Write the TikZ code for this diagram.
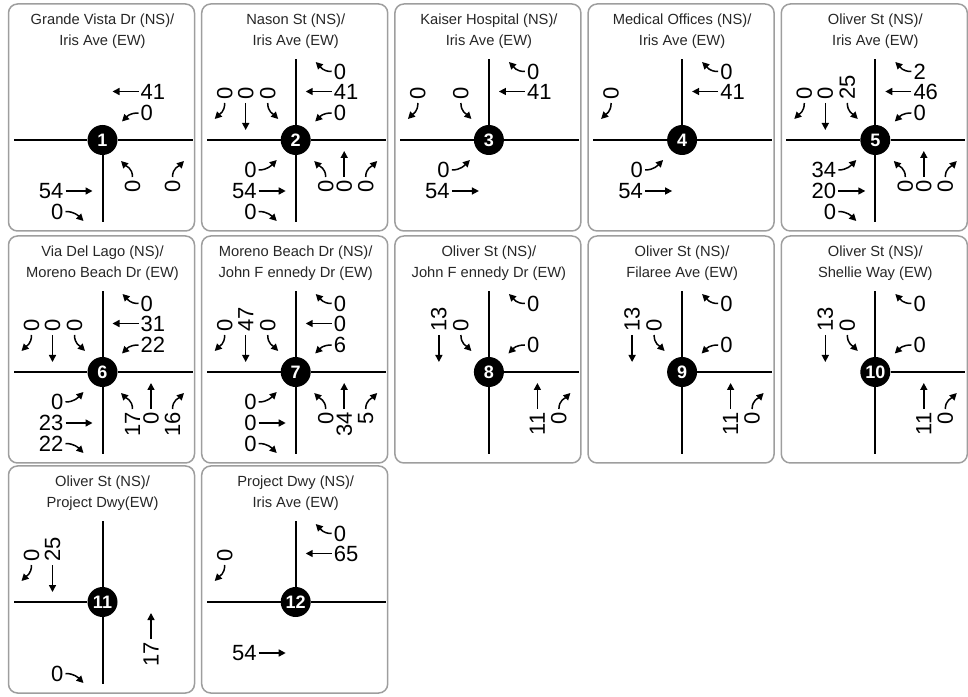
\documentclass[tikz,border=0pt]{standalone}
\usepackage{fontspec}
\setmainfont{Liberation Sans}
\usetikzlibrary{arrows.meta}

% panel frame, title and numbered hub (c)
\newcommand{\panelbox}[3]{%
  \draw[panel] (-94,-91) rectangle (92,136);
  \node[ttl] (t1) at (0,119) {#1};
  \node[ttl] (t2) at (0,98.5) {#2};
  \node[hub] (c) at (0,0) {#3};}

% legs
\newcommand{\legW}{\coordinate (w) at (-89,0); \draw[leg] (c) -- (w);}
\newcommand{\legE}{\coordinate (e) at (90,0); \draw[leg] (c) -- (e);}
\newcommand{\legN}{\coordinate (n) at (0,81); \draw[leg] (c) -- (n);}
\newcommand{\legS}{\coordinate (s) at (0,-82); \draw[leg] (c) -- (s);}

% westbound: right, through, left
\newcommand{\wbr}[1]{%
  \node[vol,anchor=west] (wbr) at (38,68.5) {#1};
  \coordinate (wbr-tip) at (20,78);
  \draw[mv] ([xshift=-2pt]wbr.west) .. controls +(-9,0) and +(5,-5) .. (wbr-tip);}
\newcommand{\wbt}[1]{%
  \node[vol,anchor=west] (wbt) at (38,48.5) {#1};
  \coordinate (wbt-tip) at (10,48.5);
  \draw[mv] ([xshift=-2pt]wbt.west) -- (wbt-tip);}
\newcommand{\wbl}[1]{%
  \node[vol,anchor=west] (wbl) at (38,27) {#1};
  \coordinate (wbl-tip) at (19.5,18.5);
  \draw[mv] ([xshift=-2pt]wbl.west) .. controls +(-9,0) and +(5,5) .. (wbl-tip);}

% eastbound: left, through, right
\newcommand{\ebl}[1]{%
  \node[vol,anchor=east] (ebl) at (-39,-30) {#1};
  \coordinate (ebl-tip) at (-19,-20);
  \draw[mv] ([xshift=2pt]ebl.east) .. controls +(9,0) and +(-5,-5) .. (ebl-tip);}
\newcommand{\ebt}[1]{%
  \node[vol,anchor=east] (ebt) at (-39,-51) {#1};
  \coordinate (ebt-tip) at (-10,-51);
  \draw[mv] ([xshift=2pt]ebt.east) -- (ebt-tip);}
\newcommand{\ebr}[1]{%
  \node[vol,anchor=east] (ebr) at (-39,-71.5) {#1};
  \coordinate (ebr-tip) at (-19,-81);
  \draw[mv] ([xshift=2pt]ebr.east) .. controls +(9,0) and +(-5,5) .. (ebr-tip);}

% southbound: right, through, left
\newcommand{\sbr}[1]{%
  \node[vol,rotate=90,anchor=west] (sbr) at (-71,40) {#1};
  \coordinate (sbr-tip) at (-81,21);
  \draw[mv] ([yshift=-3pt]sbr.west) .. controls +(0,-9) and +(5,5) .. (sbr-tip);}
\newcommand{\sbt}[1]{%
  \node[vol,rotate=90,anchor=west] (sbt) at (-50,40) {#1};
  \coordinate (sbt-tip) at (-50,10);
  \draw[mv] ([yshift=-3pt]sbt.west) -- (sbt-tip);}
\newcommand{\sbl}[1]{%
  \node[vol,rotate=90,anchor=west] (sbl) at (-28,40) {#1};
  \coordinate (sbl-tip) at (-17.5,21);
  \draw[mv] ([yshift=-3pt]sbl.west) .. controls +(0,-9) and +(-5,5) .. (sbl-tip);}

% northbound: left, through, right
\newcommand{\nbl}[1]{%
  \node[vol,rotate=90,anchor=east] (nbl) at (30,-40) {#1};
  \coordinate (nbl-tip) at (18.5,-21);
  \draw[mv] ([yshift=3pt]nbl.east) .. controls +(0,9) and +(5,-5) .. (nbl-tip);}
\newcommand{\nbt}[1]{%
  \node[vol,rotate=90,anchor=east] (nbt) at (48.5,-40) {#1};
  \coordinate (nbt-tip) at (48.5,-11);
  \draw[mv] ([yshift=3pt]nbt.east) -- (nbt-tip);}
\newcommand{\nbr}[1]{%
  \node[vol,rotate=90,anchor=east] (nbr) at (70,-40) {#1};
  \coordinate (nbr-tip) at (81.5,-21);
  \draw[mv] ([yshift=3pt]nbr.east) .. controls +(0,9) and +(-5,-5) .. (nbr-tip);}

\begin{document}
\begin{tikzpicture}[x=1pt,y=1pt,
  panel/.style={draw=black!38,line width=1.5pt,rounded corners=9pt},
  ttl/.style={font=\fontsize{14.7}{17}\selectfont,text=black!85,inner sep=0pt},
  hub/.style={circle,fill=black,minimum size=30pt,inner sep=0pt,text=white,
    font=\fontsize{18}{18}\selectfont\bfseries},
  leg/.style={line width=2pt},
  vol/.style={font=\fontsize{22}{22}\selectfont,inner sep=0pt},
  mv/.style={line width=1.5pt,-{Triangle[length=7pt,width=7pt]}}]
  \useasboundingbox (0,0) rectangle (968,696);

  % row 1
  \begin{scope}[shift={(102.5,556)},name prefix=p1-]
    \panelbox{Grande Vista Dr (NS)/}{Iris Ave (EW)}{1}
    \legW \legE \legS
    \wbt{41} \wbl{0}
    \ebt{54} \ebr{0}
    \nbl{0} \nbr{0}
  \end{scope}
  \begin{scope}[shift={(295.7,556)},name prefix=p2-]
    \panelbox{Nason St (NS)/}{Iris Ave (EW)}{2}
    \legW \legE \legN \legS
    \wbr{0} \wbt{41} \wbl{0}
    \sbr{0} \sbt{0} \sbl{0}
    \ebl{0} \ebt{54} \ebr{0}
    \nbl{0} \nbt{0} \nbr{0}
  \end{scope}
  \begin{scope}[shift={(488.9,556)},name prefix=p3-]
    \panelbox{Kaiser Hospital (NS)/}{Iris Ave (EW)}{3}
    \legW \legE \legN
    \wbr{0} \wbt{41}
    \sbr{0} \sbl{0}
    \ebl{0} \ebt{54}
  \end{scope}
  \begin{scope}[shift={(682.1,556)},name prefix=p4-]
    \panelbox{Medical Offices (NS)/}{Iris Ave (EW)}{4}
    \legW \legE \legN
    \wbr{0} \wbt{41}
    \sbr{0}
    \ebl{0} \ebt{54}
  \end{scope}
  \begin{scope}[shift={(875.3,556)},name prefix=p5-]
    \panelbox{Oliver St (NS)/}{Iris Ave (EW)}{5}
    \legW \legE \legN \legS
    \wbr{2} \wbt{46} \wbl{0}
    \sbr{0} \sbt{0} \sbl{25}
    \ebl{34} \ebt{20} \ebr{0}
    \nbl{0} \nbt{0} \nbr{0}
  \end{scope}

  % row 2
  \begin{scope}[shift={(102.5,324)},name prefix=p6-]
    \panelbox{Via Del Lago (NS)/}{Moreno Beach Dr (EW)}{6}
    \legW \legE \legN \legS
    \wbr{0} \wbt{31} \wbl{22}
    \sbr{0} \sbt{0} \sbl{0}
    \ebl{0} \ebt{23} \ebr{22}
    \nbl{17} \nbt{0} \nbr{16}
  \end{scope}
  \begin{scope}[shift={(295.7,324)},name prefix=p7-]
    \panelbox{Moreno Beach Dr (NS)/}{John F ennedy Dr (EW)}{7}
    \legW \legE \legN \legS
    \wbr{0} \wbt{0} \wbl{6}
    \sbr{0} \sbt{47} \sbl{0}
    \ebl{0} \ebt{0} \ebr{0}
    \nbl{0} \nbt{34} \nbr{5}
  \end{scope}
  \begin{scope}[shift={(488.9,324)},name prefix=p8-]
    \panelbox{Oliver St (NS)/}{John F ennedy Dr (EW)}{8}
    \legE \legN \legS
    \wbr{0} \wbl{0}
    \sbt{13} \sbl{0}
    \nbt{11} \nbr{0}
  \end{scope}
  \begin{scope}[shift={(682.1,324)},name prefix=p9-]
    \panelbox{Oliver St (NS)/}{Filaree Ave (EW)}{9}
    \legE \legN \legS
    \wbr{0} \wbl{0}
    \sbt{13} \sbl{0}
    \nbt{11} \nbr{0}
  \end{scope}
  \begin{scope}[shift={(875.3,324)},name prefix=p10-]
    \panelbox{Oliver St (NS)/}{Shellie Way (EW)}{10}
    \legE \legN \legS
    \wbr{0} \wbl{0}
    \sbt{13} \sbl{0}
    \nbt{11} \nbr{0}
  \end{scope}

  % row 3
  \begin{scope}[shift={(102.5,94)},name prefix=p11-]
    \panelbox{Oliver St (NS)/}{Project Dwy(EW)}{11}
    \legW \legN \legS
    \sbr{0} \sbt{25}
    \ebr{0}
    \nbt{17}
  \end{scope}
  \begin{scope}[shift={(295.7,94)},name prefix=p12-]
    \panelbox{Project Dwy (NS)/}{Iris Ave (EW)}{12}
    \legW \legE \legN
    \wbr{0} \wbt{65}
    \sbr{0}
    \ebt{54}
  \end{scope}
\end{tikzpicture}
\end{document}
